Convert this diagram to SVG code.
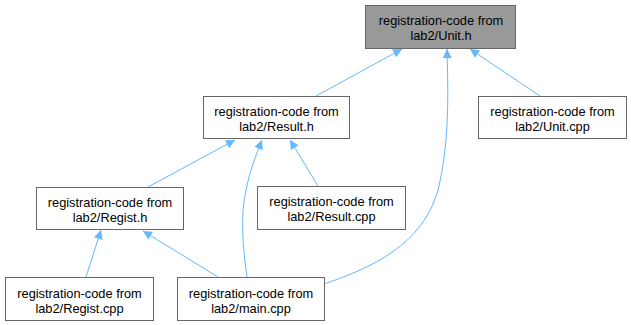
<svg xmlns="http://www.w3.org/2000/svg" width="631" height="325" viewBox="0 0 631 325">
  <style>
    .node rect { fill: #ffffff; stroke: #666666; stroke-width: 1; }
    .node.root rect { fill: #999999; }
    .node text { font-family: "Liberation Sans", Arial, sans-serif; font-size: 12.8px; fill: #000000; text-anchor: middle; }
    .edge { fill: none; stroke: #63b8ff; stroke-width: 1; marker-end: url(#arrow); }
  </style>
  <defs>
    <marker id="arrow" viewBox="0 0 10 10" refX="10" refY="5" markerWidth="11" markerHeight="9" markerUnits="userSpaceOnUse" orient="auto">
      <path d="M0,0 L10,5 L0,10 z" fill="#63b8ff"/>
    </marker>
  </defs>
  <rect width="631" height="325" fill="#ffffff"/>

  <g id="edges">
    <path class="edge" d="M316,96 L402,49"/>
    <path class="edge" d="M540,96 L470,49"/>
    <path class="edge" d="M324,284 C390,262 425,235 438,190 C450,140 448,90 447,49"/>
    <path class="edge" d="M148,187 L235,140"/>
    <path class="edge" d="M318,186 L290,140"/>
    <path class="edge" d="M247,277 C243,250 240,215 246,190 C250,170 256,155 262,140"/>
    <path class="edge" d="M86,277 L101,230"/>
    <path class="edge" d="M218,277 L143,231"/>
  </g>

  <g id="unit_h" class="node root">
    <rect x="365.5" y="5.5" width="150" height="43"/>
    <text x="441" y="24.5">registration-code from</text>
    <text x="441" y="39.5">lab2/Unit.h</text>
  </g>
  <g id="result_h" class="node">
    <rect x="203.5" y="96.5" width="146" height="42"/>
    <text x="276.5" y="115.5">registration-code from</text>
    <text x="276.5" y="130.5">lab2/Result.h</text>
  </g>
  <g id="unit_cpp" class="node">
    <rect x="478.5" y="96.5" width="148" height="42"/>
    <text x="552.5" y="115.5">registration-code from</text>
    <text x="552.5" y="130.5">lab2/Unit.cpp</text>
  </g>
  <g id="regist_h" class="node">
    <rect x="36.5" y="187.5" width="147" height="42"/>
    <text x="110" y="206.5">registration-code from</text>
    <text x="110" y="221.5">lab2/Regist.h</text>
  </g>
  <g id="result_cpp" class="node">
    <rect x="257.5" y="186.5" width="148" height="43"/>
    <text x="331.5" y="206">registration-code from</text>
    <text x="331.5" y="221">lab2/Result.cpp</text>
  </g>
  <g id="regist_cpp" class="node">
    <rect x="5.5" y="277.5" width="148" height="43"/>
    <text x="79.5" y="297.5">registration-code from</text>
    <text x="79.5" y="312.5">lab2/Regist.cpp</text>
  </g>
  <g id="main_cpp" class="node">
    <rect x="177.5" y="277.5" width="147" height="43"/>
    <text x="251" y="297.5">registration-code from</text>
    <text x="251" y="312.5">lab2/main.cpp</text>
  </g>
</svg>
